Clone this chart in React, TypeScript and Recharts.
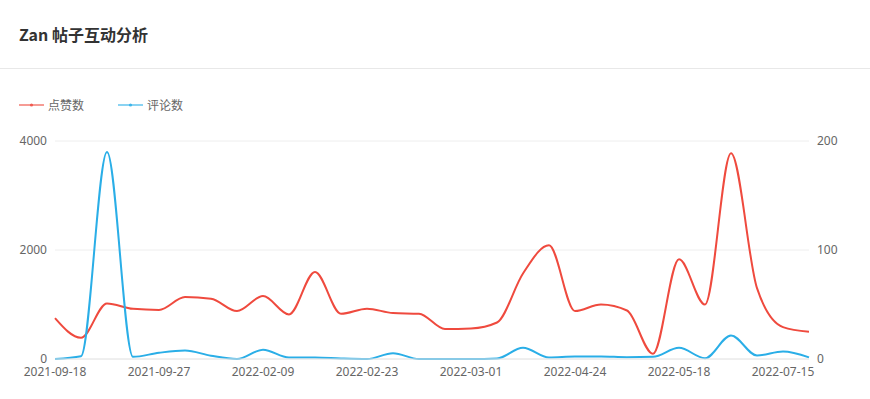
import { LineChart, Line, XAxis, YAxis, CartesianGrid } from "recharts";

const dates = [
  "2021-09-18", "2021-09-19", "2021-09-20", "2021-09-23", "2021-09-27",
  "2021-10-08", "2021-11-15", "2022-01-20", "2022-02-09", "2022-02-12",
  "2022-02-15", "2022-02-19", "2022-02-23", "2022-02-25", "2022-02-26",
  "2022-02-28", "2022-03-01", "2022-03-10", "2022-03-25", "2022-04-10",
  "2022-04-24", "2022-04-30", "2022-05-06", "2022-05-12", "2022-05-18",
  "2022-06-02", "2022-06-15", "2022-06-28", "2022-07-15", "2022-07-22",
];

// 点赞数 (left axis)
const likes = [
  750, 390, 1020, 920, 900, 1137, 1107, 880, 1155, 818,
  1597, 830, 923, 843, 831, 550, 560, 670, 1570, 2087,
  880, 1000, 890, 95, 1830, 1000, 3773, 1300, 585, 500,
];

// 评论数 (right axis)
const comments = [
  0, 2.5, 190, 2, 5.7, 7.8, 3, 0, 8.5, 1.4,
  1.4, 0.5, 0, 5.3, 0, 0, 0, 0.5, 10.3, 1.4,
  2.3, 2.3, 1.7, 2, 10.3, 0.7, 21.6, 3.2, 6.9, 1.5,
];

const data = dates.map((d, i) => ({ date: d, likes: likes[i], comments: comments[i] }));

const RED = "#ef4a3e";
const BLUE = "#2aaee7";
const tickStyle = { fontSize: 12, fill: "#666" };

const LegendItem = ({ color, label }: { color: string; label: string }) => (
  <div style={{ display: "flex", alignItems: "center", marginRight: 34 }}>
    <svg width={25} height={8} style={{ marginRight: 4 }}>
      <line x1={0} y1={4} x2={25} y2={4} stroke={color} strokeOpacity={0.55} strokeWidth={2} />
      <circle cx={12.5} cy={4} r={1.6} fill={color} fillOpacity={0.8} />
    </svg>
    <span style={{ fontSize: 12, color: "#666" }}>{label}</span>
  </div>
);

export default function App() {
  return (
    <div
      style={{
        position: "relative",
        width: 870,
        height: 399,
        overflow: "hidden",
        background: "#fff",
        fontFamily: "'Noto Sans', 'Noto Sans CJK SC', sans-serif",
      }}
    >
      <style>{"body{margin:0}"}</style>
      <div
        style={{
          position: "absolute",
          left: 19,
          top: 22,
          fontSize: 16,
          fontWeight: 700,
          color: "#333",
          fontFamily: "'Noto Sans CJK SC', sans-serif",
        }}
      >
        Zan 帖子互动分析
      </div>
      <div style={{ position: "absolute", left: 0, top: 68, width: 870, height: 1, background: "#e8e8e8" }} />
      <div style={{ position: "absolute", left: 19, top: 96, display: "flex", fontFamily: "'Noto Sans CJK SC', sans-serif" }}>
        <LegendItem color={RED} label="点赞数" />
        <LegendItem color={BLUE} label="评论数" />
      </div>
      <div style={{ position: "absolute", left: 0, top: 120 }}>
        <LineChart width={870} height={279} data={data} margin={{ top: 21, right: 0, bottom: 10, left: 0 }}>
          <CartesianGrid yAxisId="left" vertical={false} stroke="#eeeeee" />
          <XAxis
            dataKey="date"
            interval={3}
            height={30}
            tick={tickStyle}
            tickLine={false}
            axisLine={{ stroke: "#e6e6e6" }}
          />
          <YAxis
            yAxisId="left"
            width={55}
            domain={[0, 4000]}
            ticks={[0, 2000, 4000]}
            tick={tickStyle}
            tickLine={false}
            axisLine={false}
          />
          <YAxis
            yAxisId="right"
            orientation="right"
            width={61}
            domain={[0, 200]}
            ticks={[0, 100, 200]}
            tick={tickStyle}
            tickLine={false}
            axisLine={false}
          />
          <Line
            yAxisId="left"
            type="monotone"
            dataKey="likes"
            name="点赞数"
            stroke={RED}
            strokeWidth={2}
            dot={false}
            activeDot={false}
            isAnimationActive={false}
          />
          <Line
            yAxisId="right"
            type="monotone"
            dataKey="comments"
            name="评论数"
            stroke={BLUE}
            strokeWidth={2}
            dot={false}
            activeDot={false}
            isAnimationActive={false}
          />
        </LineChart>
      </div>
    </div>
  );
}
